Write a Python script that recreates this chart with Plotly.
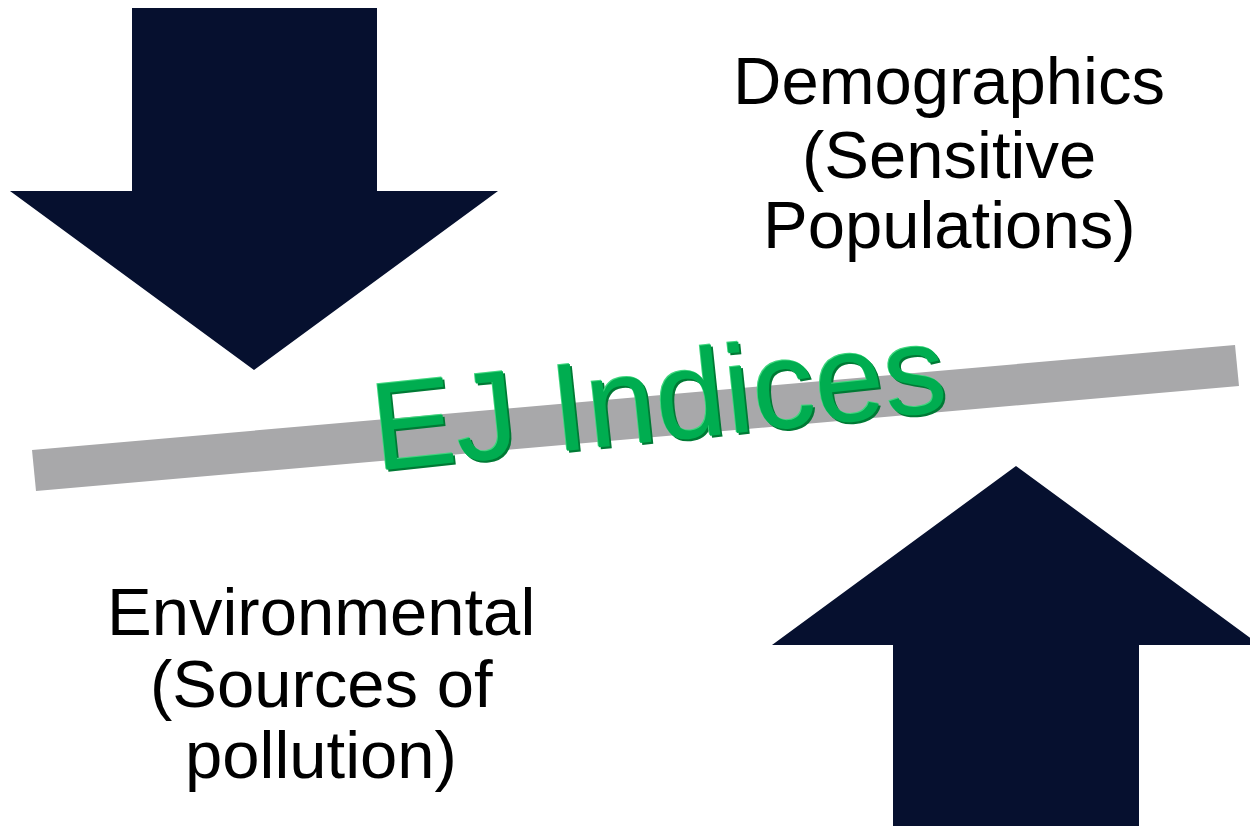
import plotly.graph_objects as go

# ---- diagram data (pixel space of a 1250 x 826 canvas, y grows downward) ----
down_arrow_x = [132, 377, 377, 498, 254, 10, 132, 132]
down_arrow_y = [8, 8, 191, 191, 370, 191, 191, 8]

up_arrow_x = [1016, 1260, 1139, 1139, 893, 893, 772, 1016]
up_arrow_y = [466, 645, 645, 840, 840, 645, 645, 466]

band_x = [32, 1235, 1239, 36, 32]
band_y = [450, 345, 386, 491, 450]

top_right_lines = ["Demographics", "(Sensitive", "Populations)"]
top_right_y = [80, 154, 224]
top_right_x = 949

bottom_left_lines = ["Environmental", "(Sources of", "pollution)"]
bottom_left_y = [611, 683, 754]
bottom_left_x = 321

title_text = "EJ Indices"
title_pos = (658, 397)
title_angle = -6

ARROW_COLOR = "#06102f"
BAND_COLOR = "#a8a8aa"

fig = go.Figure()

fig.add_trace(go.Scatter(x=band_x, y=band_y, fill="toself", mode="lines",
                         line=dict(width=0, color=BAND_COLOR), fillcolor=BAND_COLOR,
                         hoverinfo="skip", showlegend=False))
fig.add_trace(go.Scatter(x=down_arrow_x, y=down_arrow_y, fill="toself", mode="lines",
                         line=dict(width=0, color=ARROW_COLOR), fillcolor=ARROW_COLOR,
                         hoverinfo="skip", showlegend=False))
fig.add_trace(go.Scatter(x=up_arrow_x, y=up_arrow_y, fill="toself", mode="lines",
                         line=dict(width=0, color=ARROW_COLOR), fillcolor=ARROW_COLOR,
                         hoverinfo="skip", showlegend=False))

font_family = "Liberation Sans, Arial, sans-serif"
LABEL_SIZE = 67

for txt, yy in zip(top_right_lines, top_right_y):
    fig.add_annotation(x=top_right_x, y=yy, text=txt, showarrow=False,
                       xanchor="center", yanchor="middle",
                       font=dict(family=font_family, size=LABEL_SIZE, color="black"))
for txt, yy in zip(bottom_left_lines, bottom_left_y):
    fig.add_annotation(x=bottom_left_x, y=yy, text=txt, showarrow=False,
                       xanchor="center", yanchor="middle",
                       font=dict(family=font_family, size=LABEL_SIZE, color="black"))

# bevelled green title: dark edge, light edge, face
for dx, dy, col in [(2.0, 2.0, "#007a35"), (-1.0, -1.0, "#3fd67e"), (0, 0, "#00ad50")]:
    fig.add_annotation(x=title_pos[0], y=title_pos[1], text=title_text, showarrow=False,
                       xanchor="center", yanchor="middle", textangle=title_angle,
                       xshift=dx, yshift=-dy,
                       font=dict(family=font_family, size=125, color=col))

fig.update_layout(
    width=1250, height=826,
    margin=dict(l=0, r=0, t=0, b=0),
    paper_bgcolor="white", plot_bgcolor="white",
    xaxis=dict(range=[0, 1250], visible=False, fixedrange=True),
    yaxis=dict(range=[826, 0], visible=False, fixedrange=True),
    showlegend=False,
)

fig.write_html("out.html", config={"displayModeBar": False},
               post_script="document.body.style.margin='0';document.body.style.overflow='hidden';")
